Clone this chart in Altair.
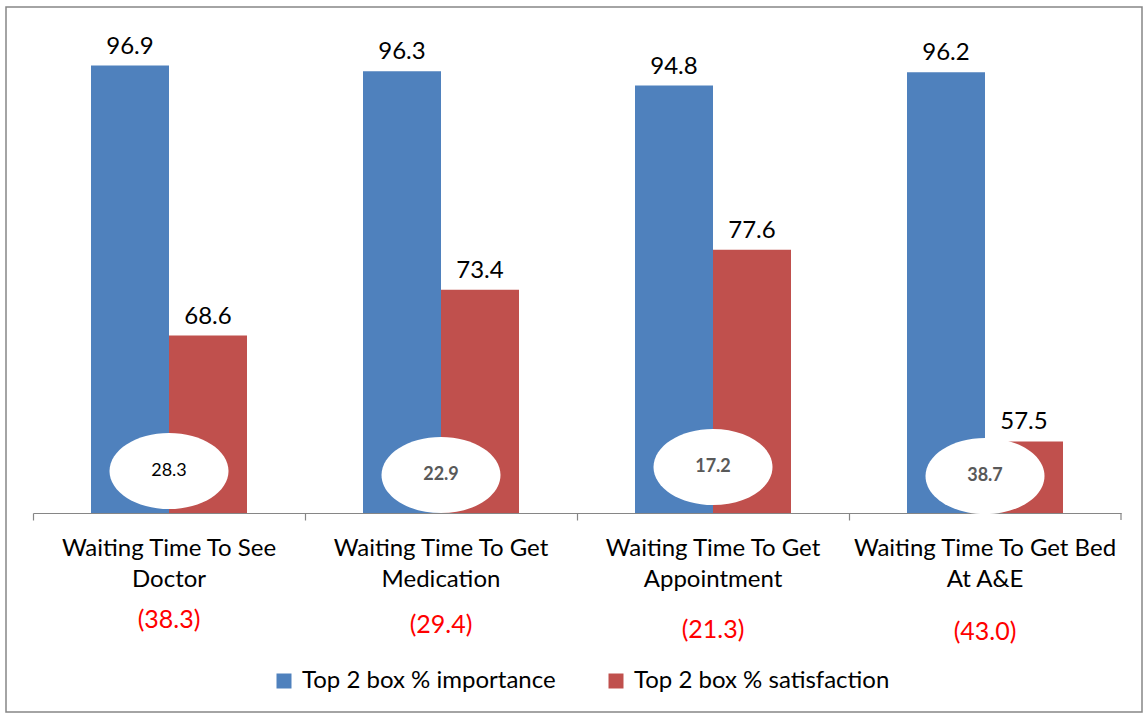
import altair as alt
import pandas as pd

# ---- data ----
categories = [
    "Waiting Time To See Doctor",
    "Waiting Time To Get Medication",
    "Waiting Time To Get Appointment",
    "Waiting Time To Get Bed At A&E",
]
label_line1 = ["Waiting Time To See", "Waiting Time To Get", "Waiting Time To Get", "Waiting Time To Get Bed"]
label_line2 = ["Doctor", "Medication", "Appointment", "At A&E"]
series = ["Top 2 box % importance", "Top 2 box % satisfaction"]
importance = [96.9, 96.3, 94.8, 96.2]
satisfaction = [68.6, 73.4, 77.6, 57.5]
gap = [28.3, 22.9, 17.2, 38.7]
bracket_values = [38.3, 29.4, 21.3, 43.0]

# ---- layout / style ----
W, H = 1088, 477
FONT = "Lato"
BLUE, RED = "#4F81BD", "#C0504D"
GREY = "#868686"
ellipse_px = [435, 439, 431, 440]
note_px = [584, 589, 594, 596]
ELLIPSE = "M-1,0 A1,0.64 0 1,1 1,0 A1,0.64 0 1,1 -1,0 Z"

bars_df = pd.DataFrame(
    [{"category": c, "series": series[0], "value": v} for c, v in zip(categories, importance)]
    + [{"category": c, "series": series[1], "value": v} for c, v in zip(categories, satisfaction)]
)
cat_df = pd.DataFrame({
    "category": categories,
    "line1": label_line1,
    "line2": label_line2,
    "gap": gap,
    "note": [f"({v:.1f})" for v in bracket_values],
})

x_enc = alt.X(
    "category:N", sort=categories,
    scale=alt.Scale(paddingInner=0, paddingOuter=0),
    axis=alt.Axis(labels=False, title=None, grid=False, domainColor=GREY, domainWidth=1.2,
                  tickColor=GREY, tickWidth=1.2, tickSize=7, bandPosition=0),
)
xo_enc = alt.XOffset("series:N", sort=series,
                     scale=alt.Scale(paddingInner=0, paddingOuter=0.7436))
y_enc = alt.Y("value:Q", scale=alt.Scale(domain=[50, 100], zero=False), axis=None)

bars = alt.Chart(bars_df).mark_bar().encode(
    x=x_enc, xOffset=xo_enc, y=y_enc, y2=alt.datum(50),
    color=alt.Color(
        "series:N", sort=series,
        scale=alt.Scale(domain=series, range=[BLUE, RED]),
        legend=alt.Legend(
            orient="none", legendX=239, legendY=633, direction="horizontal", title=None,
            symbolType="square", symbolSize=225, symbolStrokeWidth=0, symbolOpacity=1,
            labelFont=FONT, labelFontSize=24, labelColor="black", labelOffset=6,
            columnPadding=48, labelLimit=400,
        ),
    ),
)

values = alt.Chart(bars_df).mark_text(
    dy=-19, fontSize=24, font=FONT, color="black", baseline="middle"
).encode(x=x_enc, xOffset=xo_enc, y=y_enc, text=alt.Text("value:Q", format=".1f"))

layers = [bars, values]

x_mid = alt.X("category:N", sort=categories)
for i, c in enumerate(categories):
    sub = alt.Chart(cat_df).transform_filter(alt.datum.category == c)
    layers.append(
        sub.mark_point(shape=ELLIPSE, size=119 ** 2, filled=True, fill="white",
                       opacity=1, strokeWidth=0)
        .encode(x=x_mid, y=alt.value(ellipse_px[i]))
    )
    if i == 0:
        style = dict(fontWeight="normal", color="black")
    else:
        style = dict(fontWeight="bold", color="#595959")
    layers.append(
        sub.mark_text(font=FONT, fontSize=18, baseline="middle", **style)
        .encode(x=x_mid, y=alt.value(ellipse_px[i]), text=alt.Text("gap:Q", format=".1f"))
    )
    layers.append(
        sub.mark_text(font=FONT, fontSize=25, color="#FF0000", baseline="middle")
        .encode(x=x_mid, y=alt.value(note_px[i]), text="note:N")
    )

line1 = alt.Chart(cat_df).mark_text(font=FONT, fontSize=24, color="black", baseline="middle").encode(
    x=x_mid, y=alt.value(513), text="line1:N")
line2 = alt.Chart(cat_df).mark_text(font=FONT, fontSize=24, color="black", baseline="middle").encode(
    x=x_mid, y=alt.value(544), text="line2:N")
layers += [line1, line2]

one = pd.DataFrame({"k": [0]})
end_tick = alt.Chart(one).mark_rule(color=GREY, strokeWidth=1.2).encode(
    x=alt.value(W), y=alt.value(H), y2=alt.value(H + 7))
frame = alt.Chart(one).mark_rect(fill="transparent", stroke=GREY, strokeWidth=1.5).encode(
    x=alt.value(-27), x2=alt.value(1109), y=alt.value(-29), y2=alt.value(676))
layers += [end_tick, frame]

chart = alt.layer(*layers).properties(
    width=W, height=H,
    autosize=alt.AutoSizeParams(type="none"),
    padding={"left": 33, "top": 36, "right": 26, "bottom": 205},
    background="white",
).configure_view(stroke="transparent")

chart.save("out.html", embed_options={"renderer": "svg", "actions": False})
